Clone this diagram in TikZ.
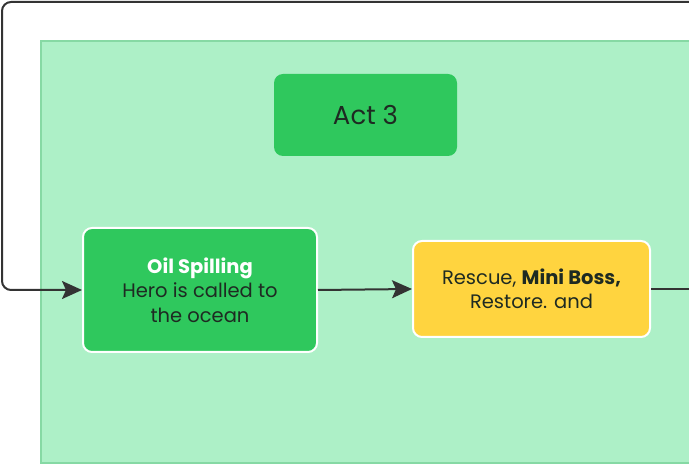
\documentclass[tikz,border=0pt]{standalone}
\usepackage{fontspec}
\setmainfont{Poppins}
\usetikzlibrary{arrows.meta}

\definecolor{panelgreen}{HTML}{ADF0C7}
\definecolor{paneledge}{HTML}{86D9A4}
\definecolor{boxgreen}{HTML}{2FC85D}
\definecolor{boxyellow}{HTML}{FFD43F}
\definecolor{linegray}{HTML}{333333}
\definecolor{textdark}{HTML}{1E2A22}

\tikzset{
    card/.style={rounded corners=9pt, draw=white, line width=2pt, align=center,
        inner sep=0pt, text=textdark, font=\fontsize{19.5}{24.5}\selectfont},
    flow/.style={draw=linegray, line width=2pt, -{Stealth[length=20pt,width=18pt,inset=4pt]}}
}

\begin{document}
\begin{tikzpicture}[x=1pt, y=-1pt]
    \useasboundingbox (0,0) rectangle (689,470);

    % panel
    \filldraw[fill=panelgreen, draw=paneledge, line width=1.5pt]
        (41,41) rectangle (700,463);

    % cards
    \node[card, fill=boxgreen, draw=none, minimum width=183pt, minimum height=82pt,
        font=\fontsize{26}{28}\selectfont] (act) at (365.5,115) {Act 3};
    \node[card, fill=boxgreen, minimum width=234pt, minimum height=124pt] (oil) at (200,290)
        {\textcolor{white}{\textbf{Oil Spilling}}\\Hero is called to\\the ocean};
    \node[card, fill=boxyellow, minimum width=237pt, minimum height=96pt] (rescue) at (531.5,289)
        {Rescue, \textbf{Mini Boss,}\\Restore. and};

    % connectors
    \coordinate (loopin) at (700,2);
    \coordinate (loopout) at (700,289);
    \draw[flow, rounded corners=9pt] (loopin) -- (2,2) -- (2,290) -- (oil.west);
    \draw[flow] (oil.east) -- (rescue.west);
    \draw[draw=linegray, line width=2pt] (rescue.east) -- (loopout);
\end{tikzpicture}
\end{document}
